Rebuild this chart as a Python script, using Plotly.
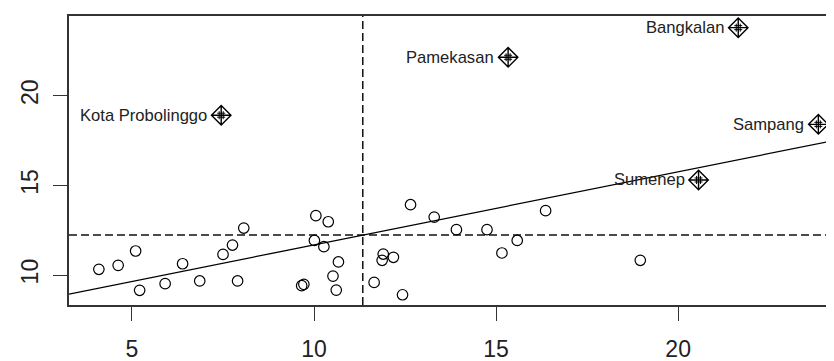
import numpy as np
import plotly.graph_objects as go

# regular points (x = variable, y = spatially lagged variable)
pts_x = [4.09, 4.62, 5.10, 5.21, 5.91, 6.39, 6.86, 7.50, 7.76, 7.90, 8.07, 9.66, 9.72,
         10.05, 10.01, 10.39, 10.27, 10.67, 10.52, 10.61, 11.65, 11.90, 11.87, 12.18,
         12.43, 12.65, 13.30, 13.91, 14.75, 15.16, 15.58, 16.36, 18.96]
pts_y = [10.32, 10.54, 11.34, 9.15, 9.52, 10.63, 9.67, 11.15, 11.67, 9.67, 12.62, 9.41, 9.48,
         13.31, 11.93, 12.97, 11.58, 10.73, 9.94, 9.16, 9.59, 11.17, 10.82, 10.99,
         8.90, 13.92, 13.23, 12.53, 12.53, 11.23, 11.93, 13.59, 10.82]

# influential points
infl_names = ["Kota Probolinggo", "Pamekasan", "Bangkalan", "Sampang", "Sumenep"]
infl_x = [7.45, 15.33, 21.65, 23.85, 20.56]
infl_y = [18.91, 22.14, 23.79, 18.40, 15.30]

x_ticks = [5, 10, 15, 20]
y_ticks = [10, 15, 20]

all_x = np.array(pts_x + infl_x)
all_y = np.array(pts_y + infl_y)
slope, intercept = np.polyfit(all_x, all_y, 1)
mx, my = all_x.mean(), all_y.mean()

xr = [3.27, 24.28]
yr = [8.33, 24.44]

fig = go.Figure()
dash = "8px,4px"
fig.add_trace(go.Scatter(x=[mx, mx], y=yr, mode="lines",
                         line=dict(color="#111", width=1.5, dash=dash), hoverinfo="skip"))
fig.add_trace(go.Scatter(x=xr, y=[my, my], mode="lines",
                         line=dict(color="#111", width=1.5, dash=dash), hoverinfo="skip"))
fig.add_trace(go.Scatter(x=pts_x, y=pts_y, mode="markers",
                         marker=dict(symbol="circle-open", size=10.5, color="black",
                                     line=dict(width=1.2, color="black"))))
fig.add_trace(go.Scatter(x=infl_x, y=infl_y, mode="markers",
                         marker=dict(symbol="diamond-cross-open", size=15, color="black",
                                     line=dict(width=1.4, color="black"))))
fig.add_trace(go.Scatter(x=infl_x, y=infl_y, mode="markers",
                         marker=dict(symbol="hash-open", size=8, color="black",
                                     line=dict(width=1, color="black"))))
lx = np.array(xr)
fig.add_trace(go.Scatter(x=lx, y=intercept + slope * lx, mode="lines",
                         line=dict(color="black", width=1.3), hoverinfo="skip"))

for n, x, y in zip(infl_names, infl_x, infl_y):
    fig.add_annotation(x=x, y=y, text=n, showarrow=False, xanchor="right",
                       yanchor="middle", xshift=-12,
                       font=dict(family="Liberation Sans, Arial", size=16.6, color="#222"))

fig.update_layout(
    width=826, height=353, showlegend=False,
    margin=dict(l=61, r=0, t=8, b=56),
    plot_bgcolor="white", paper_bgcolor="white",
    font=dict(family="Liberation Sans, Arial", color="#222"),
)
fig.update_xaxes(range=xr, tickvals=x_ticks, ticks="outside", ticklen=14, tickwidth=1.3,
                 tickcolor="#333", showline=True, linecolor="#333", linewidth=1.5,
                 mirror=True, showgrid=False, zeroline=False, automargin=False,
                 tickfont=dict(size=23), ticklabelstandoff=9)
fig.update_yaxes(range=yr, tickvals=y_ticks, ticks="outside", ticklen=14, tickwidth=1.3,
                 tickcolor="#333", showline=True, linecolor="#333", linewidth=1.5,
                 mirror=False, showgrid=False, zeroline=False, tickangle=-90,
                 automargin=False, tickfont=dict(size=23), ticklabelstandoff=6)

fig.write_html("out.html")
